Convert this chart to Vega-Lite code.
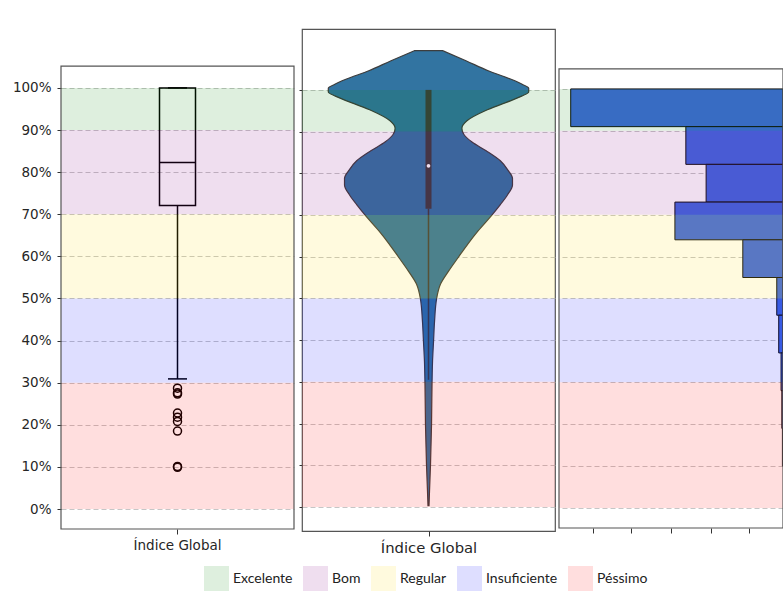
{
  "$schema": "https://vega.github.io/schema/vega-lite/v6.json",
  "padding": {"left": 0, "top": 28, "right": 0, "bottom": 3},
  "autosize": {"type": "pad"},
  "background": "white",
  "spacing": 2,
  "config": {
    "font": "DejaVu Sans",
    "axis": {"labelFont": "DejaVu Sans", "labelColor": "#262626", "tickColor": "#333333", "tickWidth": 1, "gridColor": "#b8b8b8", "gridDash": [5, 3], "gridWidth": 0.8},
    "view": {"stroke": "#555555", "strokeWidth": 1.2}
  },
  "datasets": {
    "bands": [
      {"cat": "Excelente", "lo": 90, "hi": 100},
      {"cat": "Bom", "lo": 70, "hi": 90},
      {"cat": "Regular", "lo": 50, "hi": 70},
      {"cat": "Insuficiente", "lo": 30, "hi": 50},
      {"cat": "Péssimo", "lo": 0, "hi": 30}
    ],
    "box": [
      {"label": "Índice Global", "lower": 30.9, "q1": 72.1, "median": 82.3, "q3": 100, "upper": 100}
    ],
    "outliers": [
      {"label": "Índice Global", "v": 28.7},
      {"label": "Índice Global", "v": 27.6},
      {"label": "Índice Global", "v": 27.3},
      {"label": "Índice Global", "v": 22.8},
      {"label": "Índice Global", "v": 21.8},
      {"label": "Índice Global", "v": 20.8},
      {"label": "Índice Global", "v": 18.5},
      {"label": "Índice Global", "v": 10.1},
      {"label": "Índice Global", "v": 9.9}
    ],
    "violin": [
      {"v": 0.3, "lo": -0.005, "hi": 0.005},
      {"v": 3.8, "lo": -0.01, "hi": 0.01},
      {"v": 10.3, "lo": -0.02, "hi": 0.02},
      {"v": 19.9, "lo": -0.03, "hi": 0.03},
      {"v": 29.7, "lo": -0.035, "hi": 0.035},
      {"v": 35.0, "lo": -0.04, "hi": 0.04},
      {"v": 39.8, "lo": -0.05, "hi": 0.05},
      {"v": 44.6, "lo": -0.06, "hi": 0.06},
      {"v": 49.9, "lo": -0.08, "hi": 0.08},
      {"v": 53.5, "lo": -0.12, "hi": 0.12},
      {"v": 56.6, "lo": -0.2, "hi": 0.2},
      {"v": 59.7, "lo": -0.29, "hi": 0.29},
      {"v": 63.1, "lo": -0.39, "hi": 0.39},
      {"v": 66.2, "lo": -0.49, "hi": 0.49},
      {"v": 69.8, "lo": -0.62, "hi": 0.62},
      {"v": 72.5, "lo": -0.71, "hi": 0.71},
      {"v": 74.8, "lo": -0.78, "hi": 0.78},
      {"v": 77.2, "lo": -0.83, "hi": 0.83},
      {"v": 78.8, "lo": -0.83, "hi": 0.83},
      {"v": 80.6, "lo": -0.79, "hi": 0.79},
      {"v": 83.0, "lo": -0.71, "hi": 0.71},
      {"v": 85.4, "lo": -0.57, "hi": 0.57},
      {"v": 87.5, "lo": -0.43, "hi": 0.43},
      {"v": 89.3, "lo": -0.35, "hi": 0.35},
      {"v": 90.8, "lo": -0.33, "hi": 0.33},
      {"v": 92.6, "lo": -0.38, "hi": 0.38},
      {"v": 95.0, "lo": -0.56, "hi": 0.56},
      {"v": 97.0, "lo": -0.77, "hi": 0.77},
      {"v": 98.5, "lo": -0.92, "hi": 0.92},
      {"v": 99.5, "lo": -0.99, "hi": 0.99},
      {"v": 100.4, "lo": -0.99, "hi": 0.99},
      {"v": 101.3, "lo": -0.93, "hi": 0.93},
      {"v": 102.6, "lo": -0.81, "hi": 0.81},
      {"v": 104.6, "lo": -0.59, "hi": 0.59},
      {"v": 107.0, "lo": -0.37, "hi": 0.37},
      {"v": 109.4, "lo": -0.14, "hi": 0.14}
    ],
    "vstats": [
      {"lower": 30.5, "q1": 71.5, "med": 81.8, "q3": 100}
    ],
    "hist": [
      {"b0": 91, "b1": 100, "n": 54.4},
      {"b0": 82, "b1": 91, "n": 24.9},
      {"b0": 73, "b1": 82, "n": 19.7},
      {"b0": 64, "b1": 73, "n": 27.7},
      {"b0": 55, "b1": 64, "n": 10.3},
      {"b0": 46, "b1": 55, "n": 1.6},
      {"b0": 37, "b1": 46, "n": 1.1},
      {"b0": 28, "b1": 37, "n": 0.5},
      {"b0": 19, "b1": 28, "n": 0.3},
      {"b0": 10, "b1": 19, "n": 0.15}
    ]
  },
  "hconcat": [
    {
      "width": 233,
      "height": 500,
      "view": {"stroke": null},
      "layer": [
        {
          "data": {"name": "box"},
          "mark": {"type": "rule", "color": "black", "strokeWidth": 1.5},
          "encoding": {
            "x": {"field": "label", "type": "nominal", "scale": {"type": "band", "paddingInner": 0, "paddingOuter": 0}, "axis": {"title": null, "labelAngle": 0, "tickSize": 5, "labelPadding": 4, "labelFontSize": 13.5, "domain": false, "grid": false}},
            "y": {"field": "lower", "type": "quantitative", "scale": {"domain": [-4.75, 114], "nice": false, "zero": false, "padding": 0}, "axis": {"title": null, "values": [0, 10, 20, 30, 40, 50, 60, 70, 80, 90, 100], "labelExpr": "datum.value + '%'", "grid": true, "domain": false, "tickSize": 4, "labelPadding": 6, "labelFontSize": 13.5, "minExtent": 61, "maxExtent": 61}},
            "y2": {"field": "q1"}
          }
        },
        {
          "data": {"name": "box"},
          "mark": {"type": "bar", "width": 36, "fill": "white", "fillOpacity": 0, "stroke": "black", "strokeWidth": 1.5},
          "encoding": {
            "x": {"field": "label", "type": "nominal"},
            "y": {"field": "q1", "type": "quantitative"},
            "y2": {"field": "q3"}
          }
        },
        {
          "data": {"name": "box"},
          "mark": {"type": "tick", "size": 36, "thickness": 1.5, "color": "black", "opacity": 1},
          "encoding": {
            "x": {"field": "label", "type": "nominal"},
            "y": {"field": "median", "type": "quantitative"}
          }
        },
        {
          "data": {"name": "box"},
          "mark": {"type": "tick", "size": 19, "thickness": 1.5, "color": "black", "opacity": 1},
          "encoding": {
            "x": {"field": "label", "type": "nominal"},
            "y": {"field": "lower", "type": "quantitative"}
          }
        },
        {
          "data": {"name": "box"},
          "mark": {"type": "tick", "size": 19, "thickness": 1.5, "color": "black", "opacity": 1},
          "encoding": {
            "x": {"field": "label", "type": "nominal"},
            "y": {"field": "upper", "type": "quantitative"}
          }
        },
        {
          "data": {"name": "outliers"},
          "mark": {"type": "point", "shape": "circle", "filled": false, "stroke": "black", "strokeWidth": 1.5, "size": 64, "opacity": 1},
          "encoding": {
            "x": {"field": "label", "type": "nominal"},
            "y": {"field": "v", "type": "quantitative"}
          }
        },
        {
          "data": {"name": "bands"},
          "mark": {"type": "rect", "opacity": 0.13},
          "encoding": {
            "y": {"field": "lo", "type": "quantitative"},
            "y2": {"field": "hi"},
            "color": {"field": "cat", "type": "nominal", "scale": {"domain": ["Excelente", "Bom", "Regular", "Insuficiente", "Péssimo"], "range": ["#008000", "#800080", "#ffd700", "#0000ff", "#ff0000"]}, "legend": {"title": null, "orient": "none", "legendX": 143, "legendY": 537, "direction": "horizontal", "symbolType": "square", "symbolSize": 625, "symbolStrokeWidth": 0, "symbolOpacity": 0.16, "labelFont": "Lato", "labelFontSize": 14, "labelColor": "#222222", "columnPadding": 10, "labelOffset": 4}}
          }
        },
        {
          "data": {"name": "box"},
          "mark": {"type": "rect", "fill": "white", "fillOpacity": 0, "stroke": "#555555", "strokeWidth": 1.2},
          "encoding": {
            "y": {"datum": -4.75, "type": "quantitative"},
            "y2": {"datum": 105.2}
          }
        }
      ]
    },
    {
      "width": 253,
      "height": 502,
      "layer": [
        {
          "data": {"name": "violin"},
          "mark": {"type": "area", "orient": "horizontal", "fill": "#3274a1", "stroke": "#3d3d3d", "strokeWidth": 1.2, "interpolate": "monotone", "opacity": 1},
          "encoding": {
            "y": {"field": "v", "type": "quantitative", "scale": {"domain": [-5.76, 114.6], "nice": false, "zero": false, "padding": 0}, "axis": {"title": null, "values": [0, 10, 20, 30, 40, 50, 60, 70, 80, 90, 100], "labels": false, "grid": true, "domain": false, "tickSize": 3}},
            "x": {"field": "lo", "type": "quantitative", "scale": {"domain": [-1.25, 1.25], "nice": false, "zero": false, "padding": 0}, "axis": {"title": null, "values": [0], "labelExpr": "'Índice Global'", "grid": false, "domain": false, "tickSize": 5, "labelPadding": 4, "labelFontSize": 14.8}},
            "x2": {"field": "hi"}
          }
        },
        {
          "data": {"name": "vstats"},
          "mark": {"type": "rule", "stroke": "#3d3d3d", "strokeWidth": 1.5},
          "encoding": {
            "x": {"datum": 0, "type": "quantitative"},
            "y": {"field": "lower", "type": "quantitative"},
            "y2": {"field": "q1"}
          }
        },
        {
          "data": {"name": "vstats"},
          "mark": {"type": "rule", "stroke": "#3d3d3d", "strokeWidth": 6},
          "encoding": {
            "x": {"datum": 0, "type": "quantitative"},
            "y": {"field": "q1", "type": "quantitative"},
            "y2": {"field": "q3"}
          }
        },
        {
          "data": {"name": "vstats"},
          "mark": {"type": "point", "shape": "circle", "filled": true, "fill": "white", "size": 14, "opacity": 1},
          "encoding": {
            "x": {"datum": 0, "type": "quantitative"},
            "y": {"field": "med", "type": "quantitative"}
          }
        },
        {
          "data": {"name": "bands"},
          "mark": {"type": "rect", "opacity": 0.13},
          "encoding": {
            "y": {"field": "lo", "type": "quantitative"},
            "y2": {"field": "hi"},
            "color": {"field": "cat", "type": "nominal"}
          }
        }
      ]
    },
    {
      "width": 224,
      "height": 499,
      "view": {"stroke": null},
      "layer": [
        {
          "data": {"name": "hist"},
          "mark": {"type": "bar", "orient": "horizontal", "fill": "#4169e1", "stroke": "#111111", "strokeWidth": 1, "opacity": 1},
          "encoding": {
            "y": {"field": "b0", "type": "quantitative", "scale": {"domain": [-4.77, 114.3], "nice": false, "zero": false, "padding": 0}, "axis": {"title": null, "values": [0, 10, 20, 30, 40, 50, 60, 70, 80, 90, 100], "labels": false, "ticks": false, "grid": true, "domain": false}},
            "y2": {"field": "b1"},
            "x": {"field": "n", "type": "quantitative", "scale": {"domain": [0, 57.4], "reverse": true, "nice": false, "zero": false, "padding": 0}, "axis": {"title": null, "values": [8.7, 18.5, 28.7, 38.9, 48.7], "labels": false, "grid": false, "domain": false, "tickSize": 5}}
          }
        },
        {
          "data": {"name": "bands"},
          "mark": {"type": "rect", "opacity": 0.13},
          "encoding": {
            "y": {"field": "lo", "type": "quantitative"},
            "y2": {"field": "hi"},
            "color": {"field": "cat", "type": "nominal"}
          }
        },
        {
          "data": {"name": "vstats"},
          "mark": {"type": "rect", "fill": "white", "fillOpacity": 0, "stroke": "#555555", "strokeWidth": 1.2},
          "encoding": {
            "y": {"datum": -4.77, "type": "quantitative"},
            "y2": {"datum": 104.8}
          }
        }
      ]
    }
  ],
  "resolve": {"scale": {"x": "independent", "y": "independent", "color": "shared"}}
}
